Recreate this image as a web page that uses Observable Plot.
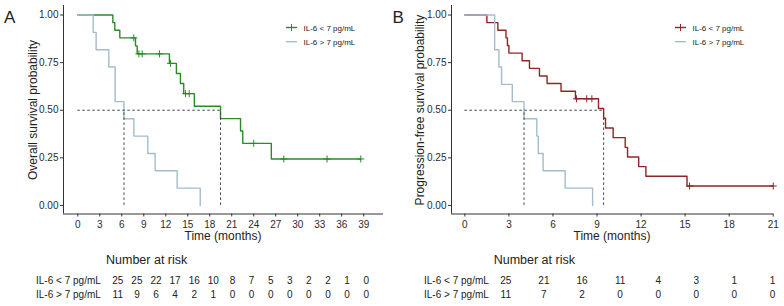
<!DOCTYPE html>
<html><head><meta charset="utf-8">
<script src="https://cdn.jsdelivr.net/npm/d3@7"></script>
<script src="https://cdn.jsdelivr.net/npm/@observablehq/plot@0.6"></script>
<style>
body{margin:0;background:#fff;}
#wrap{position:relative;width:784px;height:306px;overflow:hidden;font-family:"Liberation Sans",Arial,sans-serif;background:#fff;}
.panel{position:absolute;top:0;width:392px;height:306px;}
.panel svg{display:block;}
#overlay{position:absolute;left:0;top:0;pointer-events:none;}
</style></head><body><div id="wrap"></div>
<script>
// ---------- data ----------
const groups = ["IL-6 < 7 pg/mL", "IL-6 > 7 pg/mL"];
const survTicks = [0, 0.25, 0.5, 0.75, 1];
const timeTicksA = [0, 3, 6, 9, 12, 15, 18, 21, 24, 27, 30, 33, 36, 39];
const timeTicksB = [0, 3, 6, 9, 12, 15, 18, 21];

// Panel A – overall survival
const aLowTime  = [0, 4.78, 5.05, 5.73, 7.87, 8.1, 12.5, 13.45, 14.0, 14.45, 15.9, 19.47, 22.2, 22.5, 26.4, 38.6];
const aLowSurv  = [1, 0.96, 0.92, 0.88, 0.838, 0.796, 0.746, 0.693, 0.640, 0.587, 0.521, 0.456, 0.391, 0.326, 0.244, 0.244];
const aLowCensTime = [7.64, 8.33, 8.78, 11.15, 12.65, 14.7, 15.2, 24.0, 28.1, 34.0, 38.6];
const aLowCensSurv = [0.88, 0.796, 0.796, 0.796, 0.746, 0.587, 0.587, 0.326, 0.244, 0.244, 0.244];
const aHighTime = [0, 2.1, 2.5, 4.23, 5.1, 6.3, 7.65, 9.55, 10.55, 13.55, 16.7];
const aHighSurv = [1, 0.909, 0.818, 0.727, 0.545, 0.455, 0.364, 0.273, 0.182, 0.091, 0];
const riskALow  = [25, 25, 22, 17, 16, 10, 8, 7, 5, 3, 2, 2, 1, 0];
const riskAHigh = [11, 9, 6, 4, 2, 1, 0, 0, 0, 0, 0, 0, 0, 0];

// Panel B – progression-free survival
const bLowTime  = [0, 1.5, 2.25, 2.8, 2.9, 3.0, 3.9, 4.4, 5.08, 5.6, 6.55, 7.53, 9.1, 9.45, 9.58, 10.1, 10.92, 11.08, 11.84, 12.33, 15.13, 21.0];
const bLowSurv  = [1, 0.96, 0.92, 0.88, 0.84, 0.80, 0.76, 0.72, 0.68, 0.64, 0.60, 0.56, 0.509, 0.458, 0.407, 0.356, 0.305, 0.254, 0.204, 0.153, 0.102, 0.102];
const bLowCensTime = [7.6, 8.3, 8.65, 15.3, 21.0];
const bLowCensSurv = [0.56, 0.56, 0.56, 0.102, 0.102];
const bHighTime = [0, 2.03, 2.32, 2.5, 3.23, 4.03, 4.9, 5.0, 5.33, 6.83, 8.7];
const bHighSurv = [1, 0.818, 0.727, 0.636, 0.545, 0.455, 0.364, 0.273, 0.182, 0.091, 0];
const riskBLow  = [25, 21, 16, 11, 4, 3, 1, 1];
const riskBHigh = [11, 7, 2, 0, 0, 0, 0, 0];

// ---------- styling ----------
const colGreen = "#2a8a2a", colRed = "#8e2626", colBlue = "#a3bdcd";
const FONT = '"Liberation Sans", Arial, sans-serif';
const yDomain = [-0.045, 1.05];

const rows = (T, S) => T.map((t, i) => ({t, s: S[i]}));
const median = (T, S) => { for (let i = 0; i < T.length; i++) if (S[i] <= 0.5) return T[i]; return null; };

function chart(o) {
  const low = rows(o.lowT, o.lowS), high = rows(o.highT, o.highS), cens = rows(o.censT, o.censS);
  const meds = [median(o.highT, o.highS), median(o.lowT, o.lowS)];
  const maxMed = d3.max(meds);
  return Plot.plot({
    width: 392, height: 245,
    marginLeft: o.ml, marginRight: o.mr, marginTop: 5, marginBottom: 31.5,
    x: {domain: o.xDomain}, y: {domain: yDomain},
    style: {fontFamily: FONT, fontSize: "10px", color: "#2b2b2b", background: "transparent", overflow: "visible"},
    marks: [
      Plot.ruleX([o.xDomain[0]], {stroke: "#333", strokeWidth: 1}),
      Plot.ruleY([yDomain[0]], {stroke: "#333", strokeWidth: 1}),
      Plot.axisX(o.xTicks, {tickSize: 3, tickPadding: 3.5, label: null, stroke: "#333"}),
      Plot.axisY(survTicks, {tickSize: 3, tickPadding: 2, tickFormat: d3.format(".2f"), label: null, stroke: "#333"}),
      Plot.line(low, {x: "t", y: "s", curve: "step-after", stroke: o.col, strokeWidth: 1.4}),
      Plot.dot(cens, {x: "t", y: "s", symbol: "plus", r: 2.4, stroke: o.col, strokeWidth: 1}),
      Plot.line(high, {x: "t", y: "s", curve: "step-after", stroke: colBlue, strokeWidth: 1.4}),
      Plot.ruleY([0.5], {x1: 0, x2: maxMed, stroke: "#444", strokeWidth: 1, strokeDasharray: "2.5,2.5"}),
      Plot.ruleX(meds, {y1: 0, y2: 0.5, stroke: "#444", strokeWidth: 1, strokeDasharray: "2.5,2.5"})
    ]
  });
}

function riskTable(o) {
  const data = [];
  o.low.forEach((n, i) => data.push({t: o.ticks[i], g: groups[0], n}));
  o.high.forEach((n, i) => data.push({t: o.ticks[i], g: groups[1], n}));
  const x0 = o.ticks[0];
  return Plot.plot({
    width: 392, height: 61,
    marginLeft: o.ml, marginRight: o.mr, marginTop: 0, marginBottom: 0,
    x: {domain: [o.ticks[0], o.ticks[o.ticks.length - 1]], axis: null},
    y: {type: "point", domain: groups, range: [35, 49.3], padding: 0, axis: null},
    style: {fontFamily: FONT, fontSize: "10px", color: "#222", background: "transparent", overflow: "visible"},
    marks: [
      Plot.text(groups, {x: () => x0, y: d => d, text: d => d, textAnchor: "end", dx: -17, fontSize: 10, fill: "#222"}),
      Plot.text(data, {x: "t", y: "g", text: "n", fontSize: 10, fill: "#222"})
    ]
  });
}

const wrap = document.getElementById("wrap");
function panel(left, chartEl, riskEl) {
  const d = document.createElement("div");
  d.className = "panel"; d.style.left = left + "px";
  d.appendChild(chartEl); d.appendChild(riskEl);
  wrap.appendChild(d);
}

panel(0,
  chart({xDomain: [-1.95, 41.7], xTicks: timeTicksA, ml: 63, mr: 9, lowT: aLowTime, lowS: aLowSurv,
         censT: aLowCensTime, censS: aLowCensSurv, highT: aHighTime, highS: aHighSurv, col: colGreen}),
  riskTable({ticks: timeTicksA, low: riskALow, high: riskAHigh, ml: 117.3, mr: 26.3}));
panel(392,
  chart({xDomain: [-0.91, 21.02], xTicks: timeTicksB, ml: 59, mr: 11, lowT: bLowTime, lowS: bLowSurv,
         censT: bLowCensTime, censS: bLowCensSurv, highT: bHighTime, highS: bHighSurv, col: colRed}),
  riskTable({ticks: timeTicksB, low: riskBLow, high: riskBHigh, ml: 113.3, mr: 12}));

// ---------- annotations (titles, legends) ----------
const ov = d3.create("svg").attr("id", "overlay").attr("width", 784).attr("height", 306)
  .style("font-family", FONT);
function txt(x, y, s, size, anchor = "start", rot = false) {
  const t = ov.append("text").attr("font-size", size).attr("fill", "#222").attr("text-anchor", anchor).text(s);
  if (rot) t.attr("transform", `translate(${x},${y}) rotate(-90)`); else t.attr("x", x).attr("y", y);
}
const annot = [
  {off: 0, letter: "A", ytitle: "Overall survival probability", yx: 36.5, xc: 223, nar: 106, lg: 286, col: colGreen},
  {off: 392, letter: "B", ytitle: "Progression-free survival probability", yx: 31.5, xc: 220, nar: 101.7, lg: 283, col: colRed}
];
annot.forEach(a => {
  txt(a.off + (a.off ? 0.5 : 4), 23, a.letter, 17);
  txt(a.off + a.yx, 110, a.ytitle, 12, "middle", true);
  txt(a.off + a.xc, 240, "Time (months)", 12, "middle");
  txt(a.off + a.nar, 263.5, "Number at risk", 12.5);
  [[27.5, a.col, true], [41.7, colBlue, false]].forEach(([y, c, plus], i) => {
    const x1 = a.off + a.lg, x2 = x1 + 11;
    ov.append("line").attr("x1", x1).attr("x2", x2).attr("y1", y).attr("y2", y).attr("stroke", c).attr("stroke-width", 1.4);
    if (plus) ov.append("line").attr("x1", (x1 + x2) / 2).attr("x2", (x1 + x2) / 2).attr("y1", y - 3.5).attr("y2", y + 3.5).attr("stroke", c).attr("stroke-width", 1);
    txt(x2 + 6.5, y + 3, groups[i], 8);
  });
});
wrap.appendChild(ov.node());
</script></body></html>
